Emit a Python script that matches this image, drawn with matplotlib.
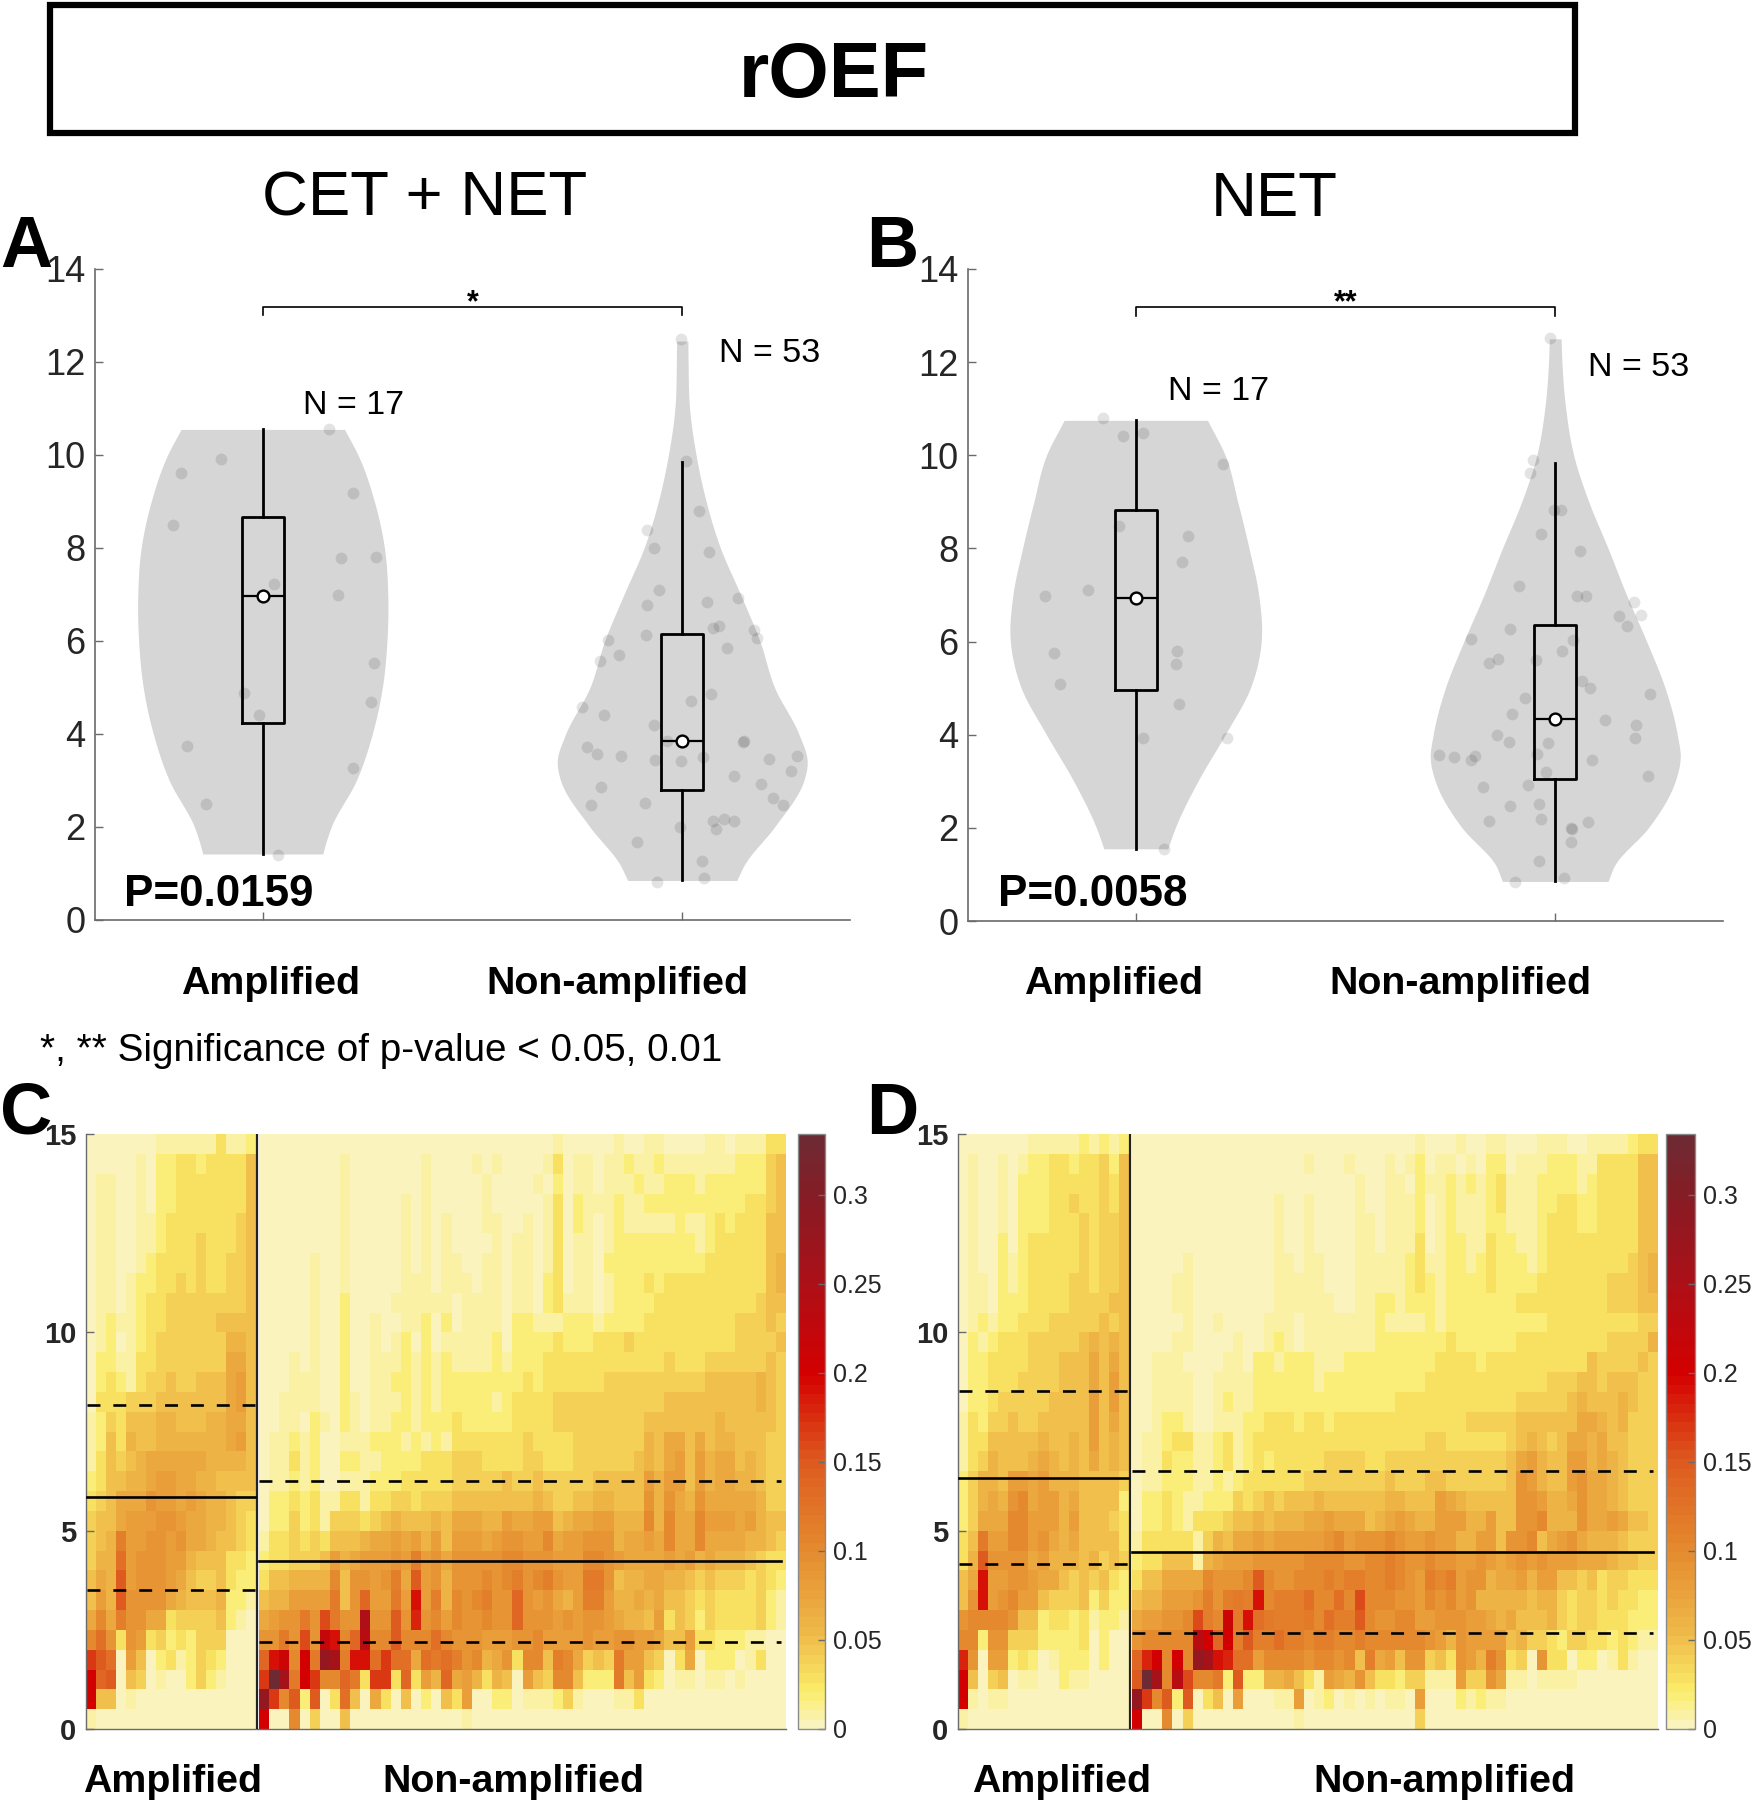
import numpy as np
import matplotlib
matplotlib.use("Agg")
import matplotlib.pyplot as plt
from matplotlib.colors import LinearSegmentedColormap
from matplotlib.patches import Rectangle

W, H = 1752, 1800
plt.rcParams['font.family'] = ['Liberation Sans', 'DejaVu Sans']

# ---------- violin outlines: value, half width ----------
A1_V = [10.55,10,9,8,7,6,5,4,3,2,1.65,1.42]
A1_W = [.195,.227,.266,.29,.298,.296,.285,.261,.223,.163,.15,.143]
A2_V = [12.45,12,11,10,9,8,7,6,5,4,3.4,3,2,1.2,.85]
A2_W = [.0135,.014,.0175,.033,.057,.091,.139,.185,.22,.278,.298,.29,.22,.149,.13]
B1_V = [10.75,10,9,8,7,6,5,4,3,2,1.55]
B1_W = [.171,.213,.243,.27,.293,.299,.273,.213,.148,.094,.076]
B2_V = [12.5,12,11,10,9,8,7,6,5,4,3.5,3,2,1.2,.85]
B2_W = [.014,.016,.025,.044,.08,.126,.17,.218,.262,.291,.298,.286,.222,.142,.126]

# ---------- box statistics: whislo, q1, med, q3, whishi ----------
A1_BOX = [1.42,4.24,6.97,8.67,10.55]
A2_BOX = [.85,2.79,3.85,6.15,9.86]
B1_BOX = [1.55,4.96,6.94,8.82,10.75]
B2_BOX = [.85,3.04,4.33,6.35,9.84]

# ---------- individual points: offset from group centre, value ----------
A1_DX = [-.195,-.1,-.213,.216,.158,.186,.27,.179,.027,.265,.259,-.045,-.008,-.181,.215,-.135,.037]
A1_Y  = [9.62,9.92,8.5,9.18,10.56,7.79,7.8,6.98,7.23,5.53,4.68,4.88,4.4,3.75,3.26,2.5,1.4]
A2_DX = [-.002,.01,.04,-.083,-.068,.064,-.056,-.083,.058,.133,-.087,-.178,.088,.074,.171,.178,.106,-.15,-.196,.069,.022,-.239,-.186,-.067,-.037,.147,.146,-.226,-.202,-.146,-.065,-.002,.05,.208,.274,.259,.124,.189,-.193,.216,.241,-.218,-.088,-.006,.074,.099,.124,.08,-.109,.048,.051,-.059]
A2_Y  = [12.49,9.88,8.8,8.39,8.0,7.91,7.1,6.77,6.83,6.92,6.13,6.02,6.32,6.27,6.24,6.06,5.84,5.69,5.58,4.86,4.71,4.57,4.4,4.2,3.85,3.85,3.82,3.71,3.56,3.52,3.45,3.43,3.51,3.47,3.53,3.2,3.1,2.92,2.86,2.62,2.47,2.48,2.51,1.99,2.12,2.17,2.12,1.96,1.67,1.27,.9,.82]
B1_DX = [-.079,-.03,.018,.208,-.04,.125,.111,-.115,-.217,.099,-.196,.097,-.181,.103,.018,.217,.068]
B1_Y  = [10.79,10.42,10.47,9.81,8.48,8.26,7.7,7.1,6.97,5.79,5.76,5.52,5.09,4.67,3.92,3.93,1.54]
B2_DX = [-.012,-.054,-.061,-.002,.013,-.035,.06,-.087,.053,.074,.188,.204,.151,.17,-.107,-.201,.042,.015,-.137,-.157,-.047,.063,.084,.226,-.073,-.103,.118,.192,.191,-.139,-.111,-.017,-.043,-.278,-.242,-.192,-.201,.087,-.022,.22,-.064,-.172,-.107,-.039,-.157,-.033,.078,.037,.041,.038,-.038,.022,-.095]
B2_Y  = [12.52,9.9,9.61,8.83,8.82,8.32,7.95,7.2,6.97,6.98,6.86,6.56,6.54,6.33,6.28,6.06,6.03,5.8,5.62,5.55,5.6,5.15,5.0,4.88,4.79,4.45,4.32,4.21,3.92,3.99,3.85,3.82,3.58,3.57,3.52,3.55,3.45,3.46,3.2,3.12,2.93,2.87,2.48,2.52,2.14,2.19,2.12,1.99,1.98,1.69,1.28,.92,.83]

# ---------- heat maps: each char is a base-36 value in hundredths; rows run from 15 down to 0 ----------
C_AMP = ["00000001111113112","00000102233233335","01100102233333335","01100102233333335","01100112333333345",
"01100112333433345","01100123333433445","01101223343433445","01101233444444445","01211233444445555",
"01201234444444665","02211334444444775","02321344544555785","03334445555555785","12435556655566775",
"12536556666666785","13545677777766665","23556678877665555","34577798878766544","45578889987766543",
"456b8899897765543","466d8999886555332","576f8999875445322","586f9999765556221","7a7b9977344445210",
"ad939834232444000","hfd08502312432000","kef05401002421000","k5501000000000000","10000000000000000"]

C_NON = [
"0000000000000000000000" "000000010000010011000011011133",
"0000000010000000100001" "010000130110112112111111122245",
"0000000010000000100000" "100001020110111211222122222245",
"0000000010000010100000" "100000130211121122222222223345",
"0000000010000010101000" "110010130210121111121123233355",
"0000000010000010101000" "010110130110122222222123333355",
"0000010010000010101100" "110110130110222222222233333356",
"0000010010000011101110" "110110230110122232333333333356",
"0000010020000111111011" "110110231110122223333333333455",
"0000010020010011202011" "110221112221222233333333344454",
"0000010020010120201111" "120222232223334333333333344445",
"0001010020011121212111" "121222333333333333433344444454",
"0001110020011221212222" "222232333333444444444455555654",
"0011110021011121212222" "212333344444444444555555555654",
"0011021021011221222322" "222333344444444455555556555554",
"0112120011122212121333" "333343333444444465775756655544",
"0113120022112222333444" "333344333444444565785867756544",
"0112120011122233333444" "445445444445555586885867766544",
"0223231133133443444555" "555556544556655596976977777644",
"0224231444345655565777" "6687788567788666a6a77a88878655",
"1334343555677878685888" "789988a78899967787a77a77776654",
"233444586788898b897999" "99aa999888aa987777878676665433",
"3556666a59989b7f896999" "a9ab9ab988cc956677665454443432",
"5668888c59e88c8j8b6a9a" "b99e989768bb866767554343333421",
"7899c9gc99p99f9i9a8a99" "a99e99989899876658354243333421",
"99c9g9mjaeoaafaaada999" "88899a888898899887558332221100",
"ejlakcsqbjjdhdd7dcdb9a" "6793aa5ba7454c88540370222013" "00",
"hxqckhaaec3hh3e386e786" "3650854aa5222c58320110110100" "00",
"shaf2f03d5073050205380" "022011124100011300000000000000",
"k00a040050000000000010" "000000000000000000000000000000"]

D_AMP = ["00000001111121212","01001012233233425","01001022233333435","01001022233433435","01001022233343445",
"01002023333343445","01002123333343445","01102123333443445","01102223333444455","01212233344444545",
"02123334444456565","02233334445557575","02233344445557585","02234444455558585","13244544555558575",
"13355555655658565","13465556765657565","24665887866655554","246769a7886755552","24777aa8886855543",
"35c88aa8976755553","36f99997866656454","57j88998775454532","59j89a88544452422","9aaaa955233231221",
"aa299444222230200","i9088232012220200","k5045011002110000","k1011000000000000","10000000000000000"]

D_NON = [
"0000000000000000000000" "000000100010011000111001111233",
"0000000000000000010001" "000101201101022011122211333355",
"0000000000000000000000" "100110211212123111222212333355",
"0000000000000010010000" "100111201211123111223322333355",
"0000000000000010010000" "110111201211122111233322333355",
"0000000000000010010000" "110111301221132211233333333355",
"0000010000000011011000" "111112311221232221233333333456",
"0000110000000011111000" "111112321222232222333333344456",
"0000110000000011111100" "112212221222222233333333344455",
"0000010010000111011111" "112111121222222222233333333344",
"0000110000100121011111" "112222222322222233333333344446",
"0011100001102212221112" "222222223333233333333335444454",
"0011110011112222221222" "222222233333333333344455455544",
"0011110012112222222222" "222233333333333344444565556544",
"0012210011122333233233" "333333333334444455555577656444",
"0112331123123333333333" "333333344333333456545776755444",
"0113221123123233333444" "433444444444444578655886765444",
"0112221121233333344444" "444544455444444598655897765444",
"0223211222434545556555" "555665558765555599866797765444",
"0223213334556566677877" "756787668886685599a66697787554",
"13333314657787888889a8" "999a9889886688599a578976665444",
"23355516788899999aaaa9" "9aaba99a998898789898887776554" "4",
"3557777a999afa99aaabab" "baaba98bab89967786885545344333",
"5668889b9bcbjabbbdaada" "gaaa998a9a89666665664344343322",
"78899agbalcjdcbbbcadbb" "fa99aa8899988767555643443332" "22",
"9aaaaaokekbfbbdbbabbaa" "baaaaaa98698888564432443323211",
"eikakasqjidd8aaaa9aa9a" "5b7859945398" "6b93409330220131" "00",
"fxqaogaac2f22667531876" "953324411184497110111100000000",
"shaf2f0350800011801201" "010110800021211000000000000000",
"k00a040000000000100000" "000000400000000000000000000000"]

# ---------- summary lines on the heat maps: q1, median, q3 ----------
C_AMP_LINES = [3.50, 5.84, 8.18]
C_NON_LINES = [2.20, 4.23, 6.24]
D_AMP_LINES = [4.16, 6.34, 8.52]
D_NON_LINES = [2.41, 4.45, 6.50]

GROUPS = ["Amplified", "Non-amplified"]
CB_TICKS = [0, .05, .1, .15, .2, .25, .3]
CB_LABELS = ["0", "0.05", "0.1", "0.15", "0.2", "0.25", "0.3"]
VMAX = .334

INK = '#262626'
SPINE = '#6a6a6a'

cmap = LinearSegmentedColormap.from_list('roef', [
    (0/VMAX, '#FBF3BE'), (.01/VMAX, '#FBF08E'), (.02/VMAX, '#FBEC68'), (.05/VMAX, '#EFBB4A'),
    (.1/VMAX, '#E48A2E'), (.15/VMAX, '#DE5A1F'), (.2/VMAX, '#D40000'), (.25/VMAX, '#AE0F17'),
    (.3/VMAX, '#861C24'), (1, '#6E2A33')], N=64)

fig = plt.figure(figsize=(W/100, H/100), dpi=100, facecolor='white')

def ax_px(l, t, r, b):
    return fig.add_axes([l/W, 1-b/H, (r-l)/W, (b-t)/H])

def txt(x, y, s, size, weight='normal', ha='left', va='center', color='black'):
    fig.text(x/W, 1-y/H, s, fontsize=size, fontweight=weight, ha=ha, va=va, color=color)

def smooth(v, w, n=14):
    v, w = np.asarray(v, float), np.asarray(w, float)
    m = np.gradient(w, v)
    vs, ws = [], []
    for i in range(len(v)-1):
        t = np.linspace(0, 1, n, endpoint=False)
        h = v[i+1]-v[i]
        vs.append(v[i]+t*h)
        ws.append((2*t**3-3*t**2+1)*w[i] + (t**3-2*t**2+t)*h*m[i]
                  + (-2*t**3+3*t**2)*w[i+1] + (t**3-t**2)*h*m[i+1])
    vs.append([v[-1]]); ws.append([w[-1]])
    return np.concatenate(vs), np.concatenate(ws)

def violin_panel(box, groups, star):
    ax = ax_px(*box)
    ax.set_xlim(.6, 2.4); ax.set_ylim(0, 14)
    for pos, (vv, ww, dx, yy, st) in zip([1, 2], groups):
        v, w = smooth(vv, ww)
        ax.fill_betweenx(v, pos-w, pos+w, color='#D6D6D6', lw=0, zorder=1)
        ax.scatter(pos+np.array(dx), yy, s=72, color='black', alpha=.11, lw=0, zorder=2, clip_on=False)
        ax.bxp([dict(whislo=st[0], q1=st[1], med=st[2], q3=st[3], whishi=st[4], fliers=[])],
               positions=[pos], widths=[.1], showfliers=False, showcaps=False, manage_ticks=False,
               boxprops=dict(color='black', lw=2.0), whiskerprops=dict(color='black', lw=2.0, ls='-'),
               medianprops=dict(color='black', lw=1.6), zorder=3)
        ax.plot([pos], [st[2]], 'o', ms=8.5, mfc='white', mec='black', mew=1.7, zorder=4)
    ax.plot([1, 1, 2, 2], [13.0, 13.18, 13.18, 13.0], color='black', lw=1.2, zorder=3)
    ax.text(1.5, 13.26, star, fontsize=22, fontweight='bold', ha='center', va='center')
    ax.set_xticks([1, 2]); ax.set_xticklabels([])
    ax.set_yticks(range(0, 15, 2))
    ax.tick_params(axis='both', direction='in', length=6, width=1, color=SPINE, labelsize=26,
                   labelcolor=INK, pad=7)
    for s in ('top', 'right'):
        ax.spines[s].set_visible(False)
    for s in ('left', 'bottom'):
        ax.spines[s].set_color(SPINE); ax.spines[s].set_linewidth(1.2)
    ax.patch.set_alpha(0)
    return ax

violin_panel((95, 269, 850, 920),
             [(A1_V, A1_W, A1_DX, A1_Y, A1_BOX), (A2_V, A2_W, A2_DX, A2_Y, A2_BOX)], '*')
violin_panel((968, 269, 1723, 921),
             [(B1_V, B1_W, B1_DX, B1_Y, B1_BOX), (B2_V, B2_W, B2_DX, B2_Y, B2_BOX)], '**')

def grid(rows, n):
    return np.array([[int(c, 36)/100 for c in r[:n].ljust(n, '0')] for r in rows])

def heat_panel(box, split, amp, non, amp_lines, non_lines, cb_box):
    l, t, r, b = box
    ax = ax_px(l, t, r, b)
    ax.set_xlim(l, r); ax.set_ylim(0, 15)
    yedges = np.linspace(15, 0, 31)
    a = grid(amp, 17); n = grid(non, 52)
    m = ax.pcolormesh(np.linspace(l, split, 18), yedges, a, cmap=cmap, vmin=0, vmax=VMAX)
    ax.pcolormesh(np.linspace(split+3, r, 53), yedges, n, cmap=cmap, vmin=0, vmax=VMAX)
    ax.axvline(split+.7, color='#222222', lw=1.6, zorder=3)
    for vals, x0, x1 in [(amp_lines, l+1, split-1), (non_lines, split+3, r-5)]:
        for val, ls in zip(vals, [(0, (4.9, 4.9)), '-', (0, (4.9, 4.9))]):
            ax.plot([x0, x1], [val, val], color='black', lw=1.9, ls=ls, zorder=4)
    ax.set_xticks([])
    ax.set_yticks([0, 5, 10, 15])
    ax.tick_params(axis='y', direction='in', length=6, width=1, color=SPINE, labelsize=21,
                   labelcolor=INK, pad=7)
    for lab in ax.get_yticklabels():
        lab.set_fontweight('bold')
    for s in ('top', 'right'):
        ax.spines[s].set_visible(False)
    for s in ('left', 'bottom'):
        ax.spines[s].set_color(SPINE); ax.spines[s].set_linewidth(1.0)
    cax = ax_px(*cb_box)
    cb = fig.colorbar(m, cax=cax)
    cb.set_ticks(CB_TICKS); cb.set_ticklabels(CB_LABELS)
    cb.ax.tick_params(direction='in', length=5, width=1, color=SPINE, labelsize=18,
                      labelcolor=INK, pad=6)
    cb.outline.set_edgecolor('#8a8a8a'); cb.outline.set_linewidth(1.0)

heat_panel((86, 1134, 786, 1729), 256, C_AMP, C_NON, C_AMP_LINES, C_NON_LINES, (798, 1134, 825, 1729))
heat_panel((958, 1134, 1658, 1729), 1129, D_AMP, D_NON, D_AMP_LINES, D_NON_LINES, (1666, 1134, 1695, 1729))

# title box
fig.add_artist(Rectangle((50/W, 1-133/H), 1525/W, 128/H, transform=fig.transFigure,
                         fill=False, ec='black', lw=4.5))
txt(834, 77, "rOEF", 56, 'bold', ha='center')
txt(425, 199, "CET + NET", 45.7, ha='center')
txt(1274, 199, "NET", 45.7, ha='center')

# panel letters
for s, x, y in [("A", 0, 267), ("B", 866, 267), ("C", 0, 1134), ("D", 866, 1134)]:
    txt(x, y, s, 52, 'bold', va='baseline')

# group labels
for (x1, x2, y) in [(271, 617, 984), (1114, 1460, 984), (173, 513, 1782), (1062, 1444, 1782)]:
    txt(x1, y, GROUPS[0], 28.4, 'bold', ha='center')
    txt(x2, y, GROUPS[1], 28.4, 'bold', ha='center')

txt(124, 895, "P=0.0159", 31.7, 'bold')
txt(998, 895, "P=0.0058", 31.7, 'bold')
txt(303, 406, "N = 17", 24.5)
txt(719, 353, "N = 53", 24.5)
txt(1168, 391, "N = 17", 24.5)
txt(1588, 368, "N = 53", 24.5)
txt(40, 1051, "*, ** Significance of p-value < 0.05, 0.01", 27.8)

fig.savefig("out.png", dpi=100, facecolor='white')
